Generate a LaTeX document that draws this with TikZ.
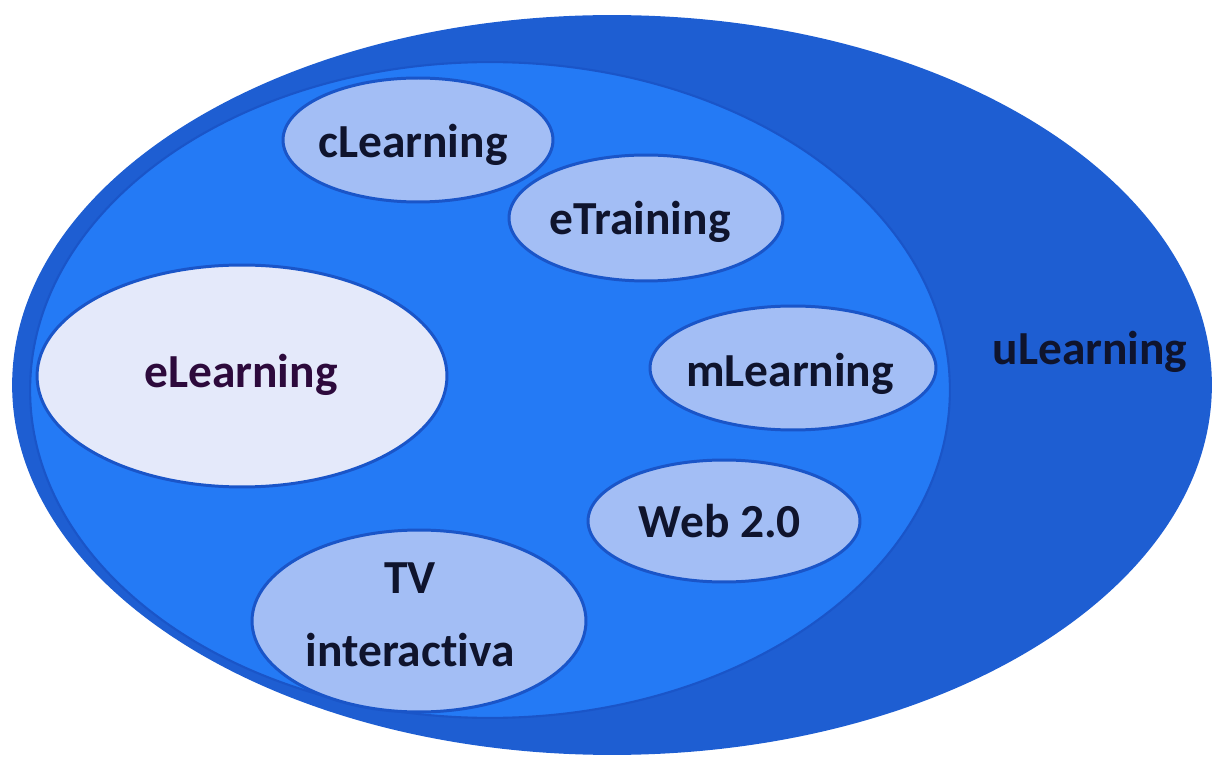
\documentclass[tikz,border=0pt]{standalone}
\usepackage{fontspec}
\setmainfont{Carlito}[Ligatures={NoCommon}]
\usetikzlibrary{shapes.geometric}
\definecolor{outerblue}{RGB}{30,94,210}
\definecolor{innerblue}{RGB}{36,122,245}
\definecolor{rimblue}{RGB}{26,85,200}
\definecolor{paleblue}{RGB}{163,190,245}
\definecolor{palewhite}{RGB}{228,233,250}
\definecolor{inktext}{RGB}{15,20,45}
\definecolor{inkpurple}{RGB}{45,10,60}

\begin{document}
\begin{tikzpicture}[x=0.02cm, y=-0.02cm,
  bubble/.style={draw=rimblue, line width=1.7pt, fill=paleblue, ellipse, inner sep=0pt},
  word/.style={text=inktext, font=\fontsize{27}{33}\selectfont\bfseries, align=center}]
\useasboundingbox (0,0) rectangle (1212,759);
% outer and inner sets
\node[ellipse, fill=outerblue, minimum width=24cm, minimum height=14.8cm] (ulearn) at (612,385) {};
\node[ellipse, fill=innerblue, draw=rimblue, line width=1.2pt, minimum width=18.4cm, minimum height=13.12cm] (inner) at (490,390) {};
\node[word] (ulabel) at (1090,352) {uLearning};
% bubbles
\node[bubble, minimum width=5.4cm, minimum height=2.48cm] (clearn) at (418,140) {};
\node[bubble, minimum width=5.48cm, minimum height=2.52cm] (etrain) at (646,218) {};
\node[bubble, fill=palewhite, minimum width=8.2cm, minimum height=4.44cm] (elearn) at (242,376) {};
\node[bubble, minimum width=5.72cm, minimum height=2.48cm] (mlearn) at (793,368) {};
\node[bubble, minimum width=5.44cm, minimum height=2.44cm] (web) at (724,521) {};
\node[bubble, minimum width=6.68cm, minimum height=3.64cm] (tv) at (419,621) {};
% labels
\node[word] (clabel) at (413,145) {cLearning};
\node[word] (elabel) at (640,222) {eTraining};
\node[word, text=inkpurple] (eltext) at (241,375) {eLearning};
\node[word] (mlabel) at (790,374) {mLearning};
\node[word] (wlabel) at (720,521) {Web 2.0};
\node[word] (tvtop) at (410,578) {TV};
\node[word] (tvbot) at (410,650) {interactiva};
\end{tikzpicture}
\end{document}
